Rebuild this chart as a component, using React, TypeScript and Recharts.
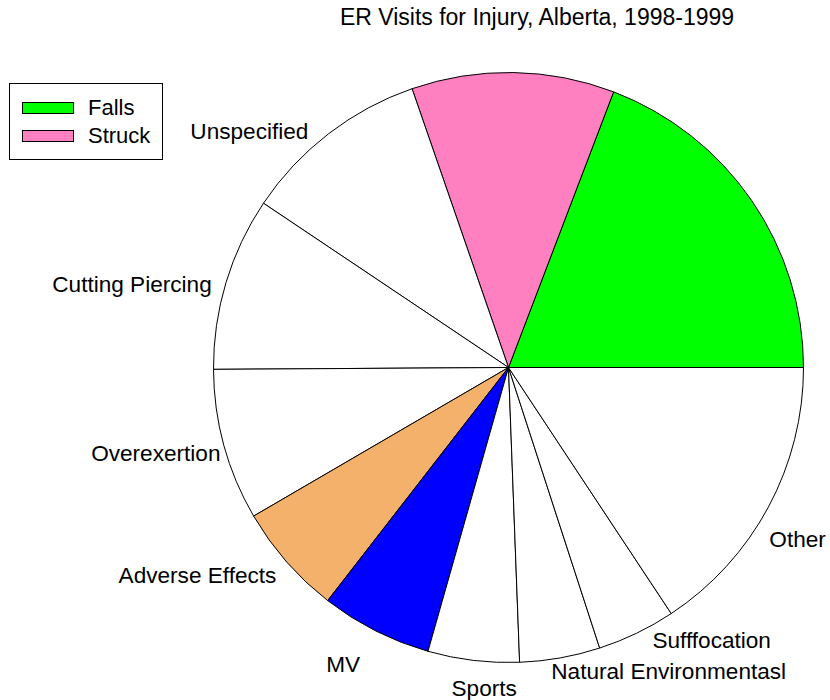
import { PieChart, Pie, Cell } from 'recharts';

const categories = [
  'Falls',
  'Struck',
  'Unspecified',
  'Cutting Piercing',
  'Overexertion',
  'Adverse Effects',
  'MV',
  'Sports',
  'Natural Environmentasl',
  'Sufffocation',
  'Other',
];
const shares = [19.2, 11.1, 10.3, 9.5, 8.3, 6.1, 6.1, 5.0, 4.4, 4.3, 15.7];
const colors = [
  '#00ff00',
  '#ff80c0',
  '#ffffff',
  '#ffffff',
  '#ffffff',
  '#f4b16c',
  '#0000ff',
  '#ffffff',
  '#ffffff',
  '#ffffff',
  '#ffffff',
];
const legendItems = ['Falls', 'Struck'];

const data = categories.map((name, i) => ({ name, value: shares[i] }));

// hand tweaks so the slice labels sit where the original put them
const labelNudge: Record<string, [number, number]> = {
  Unspecified: [-2, 29],
  'Cutting Piercing': [14, 18],
  Overexertion: [25, 8],
  'Adverse Effects': [12, 2],
  MV: [-2, 15],
  Sports: [47, 6],
  'Natural Environmentasl': [-14, -8],
  Sufffocation: [3, -12],
  Other: [-25, 26],
};

const FONT = '"Liberation Sans", Arial, sans-serif';
const RAD = Math.PI / 180;

const renderLabel = (props: any) => {
  const { cx, cy, midAngle, outerRadius, name } = props;
  if (legendItems.includes(name)) return null;
  const r = outerRadius * 1.1;
  const x = cx + r * Math.cos(-midAngle * RAD);
  const y = cy + r * Math.sin(-midAngle * RAD);
  const [dx, dy] = labelNudge[name] || [0, 0];
  return (
    <text
      x={x + dx}
      y={y + dy}
      textAnchor={x > cx ? 'start' : 'end'}
      fontSize={22.6}
      fontFamily={FONT}
      fill="#000"
    >
      {name}
    </text>
  );
};

// legend drawn by hand, a Recharts Legend would push the pie sideways
const LegendBox = () => (
  <div
    style={{
      position: 'absolute',
      left: 9,
      top: 83,
      width: 152,
      height: 75,
      border: '1px solid #000',
      background: '#fff',
      fontFamily: FONT,
      fontSize: 22,
    }}
  >
    {legendItems.map((name, i) => (
      <div
        key={name}
        style={{ position: 'absolute', left: 12, top: 12 + i * 28, display: 'flex', alignItems: 'center', height: 24 }}
      >
        <span
          style={{
            display: 'inline-block',
            width: 50,
            height: 10,
            background: colors[categories.indexOf(name)],
            border: '1px solid #000',
            marginRight: 14,
          }}
        />
        <span style={{ lineHeight: '24px' }}>{name}</span>
      </div>
    ))}
  </div>
);

export default function App() {
  return (
    <div style={{ position: 'absolute', left: 0, top: 0, width: 830, height: 700, background: '#fff' }}>
      <svg width={830} height={40} style={{ position: 'absolute', left: 0, top: 0 }}>
        <text x={537} y={25} textAnchor="middle" fontSize={23} fontFamily={FONT} fill="#000">
          ER Visits for Injury, Alberta, 1998-1999
        </text>
      </svg>
      <PieChart
        width={830}
        height={700}
        margin={{ top: 0, right: 0, bottom: 0, left: 0 }}
        style={{ position: 'absolute', left: 0, top: 0 }}
      >
        <Pie
          data={data}
          dataKey="value"
          nameKey="name"
          cx={508.5}
          cy={367.5}
          outerRadius={295}
          startAngle={0}
          endAngle={360}
          stroke="#000"
          strokeWidth={1}
          label={renderLabel}
          labelLine={false}
          isAnimationActive={false}
        >
          {data.map((d, i) => (
            <Cell key={d.name} fill={colors[i]} />
          ))}
        </Pie>
      </PieChart>
      <LegendBox />
    </div>
  );
}
